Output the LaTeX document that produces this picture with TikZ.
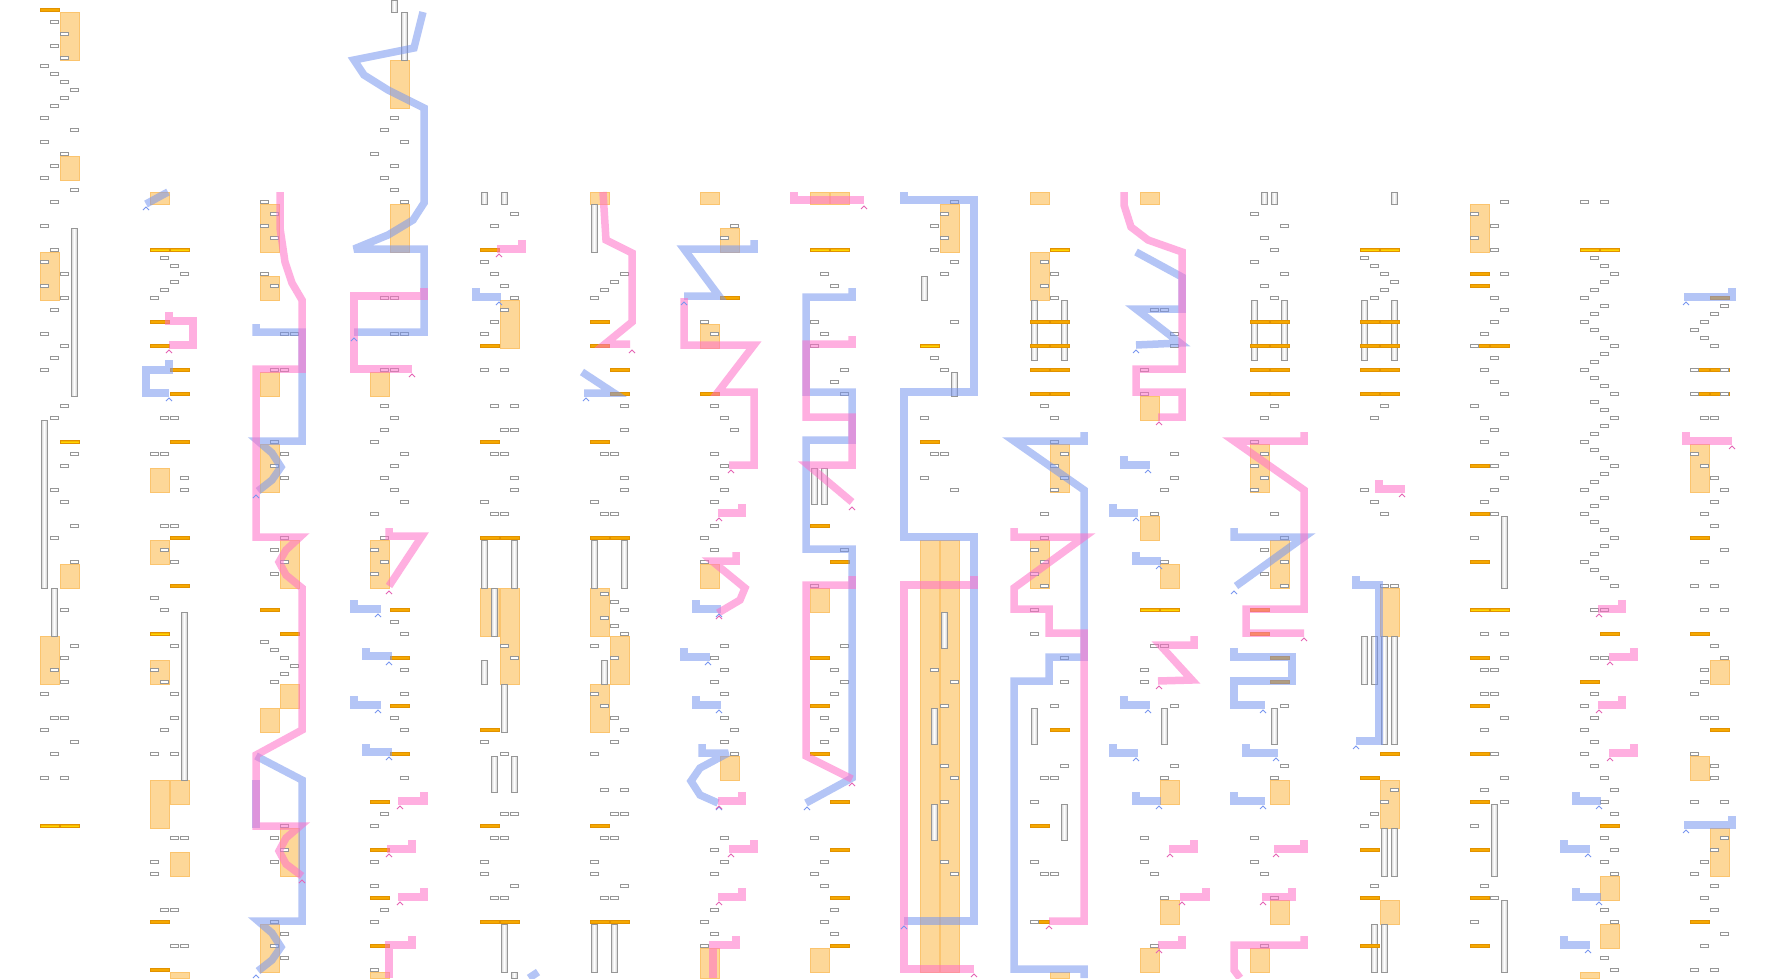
\documentclass[tikz,border=0pt]{standalone}
\usepackage{tikz}
\definecolor{mpgray}{RGB}{150,150,150}
\definecolor{mpblock}{RGB}{253,215,152}
\definecolor{mpblockedge}{RGB}{251,196,110}
\definecolor{mpbar}{RGB}{245,168,0}
\definecolor{mpbaredge}{RGB}{225,145,0}
\definecolor{mpyellow}{RGB}{255,218,0}
\definecolor{mpblue}{RGB}{120,150,240}
\definecolor{mppink}{RGB}{255,110,200}
\tikzset{
  slotbox/.style={draw=mpgray, fill=white, line width=0.8pt},
  ambblock/.style={draw=mpblockedge, fill=mpblock, line width=0.8pt},
  ambbar/.style={draw=mpbaredge, fill=mpbar, line width=0.6pt},
  ambybar/.style={draw=mpbaredge, top color=mpbar, bottom color=mpbar, middle color=mpyellow, line width=0.6pt},
  railbar/.style={draw=mpgray, left color=gray!35, right color=gray!35, middle color=white, line width=0.8pt},
  bluelane/.style={draw=mpblue, line width=7.5pt, opacity=.55, line join=miter, miter limit=4},
  pinklane/.style={draw=mppink, line width=7.5pt, opacity=.55, line join=miter, miter limit=4},
  bluetip/.style={draw=mpblue, line width=0.9pt},
  pinktip/.style={draw=mppink!90!black, line width=0.9pt}
}
\newcommand\slotrow[1]{\foreach \col/\yy in {#1}{\draw[slotbox] (10*\col,\yy-1.2) rectangle ++(8,2.4);}}
\newcommand\barrow[1]{\foreach \col/\yy in {#1}{\draw[ambbar] (10*\col,\yy-1.5) rectangle ++(19,3);}}
\newcommand\ybarrow[1]{\foreach \col/\yy in {#1}{\draw[ambybar] (10*\col,\yy-1.5) rectangle ++(19,3);}}
\newcommand\blockrow[1]{\foreach \col/\ya/\yb in {#1}{\draw[ambblock] (10*\col,\ya) rectangle (10*\col+19,\yb);}}
\newcommand\railrow[1]{\foreach \col/\ya/\yb in {#1}{\draw[railbar] (10*\col+1,\ya) rectangle (10*\col+7,\yb);}}
\newcommand\bluetips[1]{\foreach \xx/\yy in {#1}{\draw[bluetip] (\xx-3,\yy+2) -- (\xx,\yy-1) -- (\xx+3,\yy+2);}}
\newcommand\pinktips[1]{\foreach \xx/\yy in {#1}{\draw[pinktip] (\xx-3,\yy+2) -- (\xx,\yy-1) -- (\xx+3,\yy+2);}}

\begin{document}
\begin{tikzpicture}[x=1pt, y=-1pt]
  \fill[white] (0,0) rectangle (1770,978);
  \useasboundingbox (0,0) rectangle (1770,978);

  \begin{scope}[xshift=40]
    \blockrow{2/12/60,2/156/180,0/252/300,2/564/588,0/636/684}
    \railrow{3/228/396,0/420/588,1/588/636}
    \barrow{0/10}
    \ybarrow{2/442,0/826,2/826}
    \slotrow{1/22,2/34,1/46,2/58,0/66,1/74,2/82,3/90,2/98,1/106,0/118,3/130,0/142,2/154,1/166,0/178,3/190,1/202,0/226,1/250,0/262,2/274,0/286,2/298,1/310,0/334,2/346,1/358,0/370,2/406,1/418,3/454,2/466,1/490,2/502,3/526,1/538,3/562,2/610,3/646,2/658,1/670,2/682,0/694,1/718,2/718,0/730,3/742,1/754,0/778,2/778}
  \end{scope}

  \begin{scope}[xshift=150]
    \blockrow{0/192/204,0/468/492,0/540/564,0/660/684,0/780/828,2/780/804,2/852/876,2/972/978}
    \railrow{3/612/780}
    \barrow{0/322,0/346,2/370,2/394,2/442,2/538,2/586,0/922,0/970}
    \ybarrow{0/250,2/250,0/634}
    \slotrow{1/258,2/266,3/274,2/282,1/290,0/298,1/418,2/418,0/454,1/454,3/478,3/490,1/526,2/526,1/550,2/562,0/598,1/610,2/646,0/670,1/682,2/694,2/718,1/730,0/754,2/754,2/838,3/838,0/862,0/874,1/910,2/910,2/946,3/946}
  \end{scope}

  \begin{scope}[xshift=260]
    \blockrow{0/204/252,0/276/300,0/372/396,0/444/492,2/540/588,2/684/708,0/708/732,2/828/876,0/924/972}
    \barrow{0/610,2/634}
    \slotrow{0/202,1/214,0/226,1/238,0/274,1/286,2/334,3/334,1/370,2/370,1/442,2/454,1/466,2/478,2/538,1/550,2/562,1/574,0/642,1/650,2/658,3/666,2/674,1/682,2/826,1/838,2/850,1/862,1/922,2/934,1/946,2/958}
  \end{scope}

  \begin{scope}[xshift=370]
    \blockrow{2/60/108,2/204/252,0/372/396,0/540/588,0/972/978}
    \railrow{2/0/12,3/12/60}
    \barrow{2/610,2/658,2/706,2/754,0/802,0/850,0/898,0/946}
    \slotrow{2/118,1/130,3/142,0/154,2/166,1/178,2/190,3/202,1/298,2/298,2/334,3/334,1/370,2/370,1/406,2/418,1/430,0/442,3/454,2/466,1/478,2/490,3/502,0/514,1/538,0/550,1/562,0/574,2/622,3/634,3/670,3/694,2/718,3/730,3/778,1/814,0/826,0/862,0/886,1/910,0/922,0/970}
  \end{scope}

  \begin{scope}[xshift=480]
    \blockrow{2/300/348,0/588/636,2/588/684}
    \railrow{0/192/204,2/192/204,0/540/588,3/540/588,1/588/636,0/660/684,2/684/732,1/756/792,3/756/792,2/924/972,3/972/978}
    \barrow{0/250,0/346,0/442,0/538,2/538,0/730,0/826,0/922,2/922}
    \slotrow{3/214,1/226,0/262,1/274,2/286,3/298,2/310,1/322,0/334,0/370,2/370,1/406,3/406,2/430,3/430,1/454,2/454,3/478,3/490,0/502,1/514,2/514,2/646,3/658,0/742,2/754,2/814,3/814,1/838,2/838,0/862,0/874,3/886,1/898,2/898}
  \end{scope}

  \begin{scope}[xshift=590]
    \blockrow{0/192/204,0/588/636,2/636/684,0/684/732}
    \railrow{0/204/252,0/540/588,3/540/588,1/660/684,0/924/972,2/924/972}
    \barrow{0/322,0/346,2/370,2/394,0/442,0/538,2/538,0/826,0/922,2/922}
    \slotrow{3/274,2/282,1/290,0/298,3/406,3/430,1/454,2/454,3/478,3/490,0/502,1/514,2/514,1/594,2/602,3/610,1/618,2/626,3/634,0/646,2/658,0/694,1/706,2/718,3/730,2/742,0/754,1/790,3/790,2/814,3/814,1/838,2/838,0/862,0/874,3/886,1/898,2/898}
  \end{scope}

  \begin{scope}[xshift=700]
    \blockrow{0/192/204,2/228/252,0/324/348,0/564/588,2/756/780,0/948/978}
    \barrow{2/298,0/394}
    \slotrow{3/226,2/238,0/322,1/334,1/406,2/418,3/430,1/454,2/466,1/478,2/490,1/502,1/526,0/538,1/550,0/562,2/646,1/658,2/670,1/682,2/694,2/718,3/730,2/742,3/754,2/838,1/850,2/862,1/874,1/910,0/922,1/934,0/946}
  \end{scope}

  \begin{scope}[xshift=810]
    \blockrow{0/192/204,2/192/204,0/588/612,0/948/972}
    \railrow{0/468/504,1/468/504}
    \barrow{0/526,2/562,0/658,0/706,0/754,2/802,2/850,2/898,2/946}
    \ybarrow{0/250,2/250}
    \slotrow{1/274,2/286,0/322,1/334,0/346,3/370,2/382,3/394,3/550,0/586,3/646,2/670,3/682,2/694,1/718,2/730,1/742,0/838,1/862,0/874,1/886,2/910,1/922,2/934}
  \end{scope}

  \begin{scope}[xshift=920]
    \blockrow{2/204/252,0/540/972,2/540/972}
    \railrow{0/276/300,3/372/396,2/612/648,1/708/744,1/804/840}
    \barrow{0/442}
    \ybarrow{0/346}
    \slotrow{3/202,2/214,1/226,2/238,1/250,3/262,2/274,3/322,1/358,2/370,0/418,1/454,2/454,0/478,3/490,1/670,3/682,2/706,2/766,3/778,2/802,2/862,3/874}
  \end{scope}

  \begin{scope}[xshift=1030]
    \blockrow{0/192/204,0/252/300,2/444/492,0/540/588,2/972/978}
    \railrow{0/300/360,3/300/360,0/708/744,3/804/840}
    \barrow{0/322,2/322,0/346,2/346,0/370,2/370,0/394,2/394,2/730,0/826,0/922}
    \ybarrow{2/250}
    \slotrow{1/262,2/274,1/286,2/298,1/406,2/418,2/442,3/454,2/466,3/478,2/490,1/514,1/538,0/550,1/562,0/574,1/586,0/610,0/634,3/658,3/682,2/706,3/766,1/778,2/778,0/802,0/862,1/874,2/874,0/922}
  \end{scope}

  \begin{scope}[xshift=1140]
    \blockrow{0/192/204,0/396/420,0/516/540,2/564/588,2/780/804,2/900/924,0/948/972}
    \railrow{2/708/744}
    \ybarrow{0/610,2/610}
    \slotrow{1/310,2/310,3/334,3/346,0/370,0/394,3/454,3/478,2/490,1/514,2/562,1/646,2/646,0/670,0/682,3/706,3/766,2/778,0/838,0/862,1/874,2/898,1/946}
  \end{scope}

  \begin{scope}[xshift=1250]
    \blockrow{0/444/492,2/540/588,2/780/804,2/900/924,0/948/972}
    \railrow{1/192/204,2/192/204,0/300/360,3/300/360,2/708/744}
    \barrow{0/322,2/322,0/346,2/346,0/370,2/370,0/394,2/394,0/610,0/634,2/658,2/682}
    \slotrow{0/214,3/226,1/238,2/250,0/262,3/274,1/286,2/298,2/406,1/418,0/442,1/454,0/466,1/478,0/490,2/514,3/538,1/550,3/562,1/574,3/586,3/706,3/766,2/778,0/838,0/862,1/874,2/898,1/946}
  \end{scope}

  \begin{scope}[xshift=1360]
    \blockrow{2/588/636,2/780/828,2/900/924}
    \railrow{3/192/204,0/300/360,3/300/360,0/636/684,1/636/684,2/636/744,3/636/744,2/828/876,3/828/876,1/924/972,2/924/972}
    \barrow{0/322,2/322,0/346,2/346,0/370,2/370,0/394,2/394,2/754,0/778,0/850,0/898,0/946}
    \ybarrow{0/250,2/250}
    \slotrow{0/258,1/266,2/274,3/282,2/290,1/298,2/406,1/418,0/490,1/502,2/514,2/586,3/586,3/790,2/802,1/814,0/826,1/886}
  \end{scope}

  \begin{scope}[xshift=1470]
    \blockrow{0/204/252}
    \railrow{3/516/588,2/804/876,3/900/972}
    \barrow{0/274,0/286,0/346,2/346,0/466,0/514,0/562,0/658,0/706,0/754,0/802,0/850,0/898,0/946}
    \ybarrow{0/610,2/610}
    \slotrow{3/202,0/214,2/226,0/238,2/250,3/274,2/298,3/310,2/322,1/334,0/346,2/358,1/370,2/382,3/394,0/406,1/418,2/430,1/442,3/454,2/466,3/478,2/490,1/502,2/514,0/538,1/634,3/634,3/658,1/670,2/670,1/694,2/694,3/718,1/730,2/754,3/778,1/790,3/802,0/826,1/886,2/898,0/922}
  \end{scope}

  \begin{scope}[xshift=1580]
    \blockrow{2/876/900,2/924/948,0/972/978}
    \barrow{2/634,0/682,2/826}
    \ybarrow{0/250,2/250}
    \slotrow{0/202,2/202,1/258,2/266,3/274,2/282,1/290,0/298,2/306,1/314,0/322,1/330,2/338,3/346,2/354,1/362,0/370,1/378,2/386,3/394,1/402,2/410,3/418,2/426,1/434,0/442,1/450,2/458,3/466,2/474,1/482,0/490,2/498,1/506,0/514,1/522,2/530,3/538,2/546,1/554,0/562,1/570,2/578,3/586,1/610,2/610,1/658,2/658,1/694,0/706,1/718,0/730,1/742,0/754,1/766,2/778,3/790,2/802,3/814,2/838,3/850,2/862,3/874,2/910,3/922,2/958,3/970}
  \end{scope}

  \begin{scope}[xshift=1690]
    \blockrow{0/444/492,2/660/684,0/756/780,2/828/876}
    \barrow{2/298,0/370,2/370,0/394,2/394,0/538,0/634,2/730,0/922}
    \slotrow{3/306,2/314,1/322,0/330,1/338,2/346,0/370,3/370,0/394,3/394,1/418,2/418,0/454,1/466,2/478,3/490,2/502,1/514,2/526,3/550,1/562,0/586,2/586,1/610,3/610,2/646,3/658,1/670,1/682,0/694,1/718,2/718,0/754,2/766,2/778,0/802,3/802,3/838,2/850,1/862,0/874,2/886,1/898,2/910,3/934,1/946,0/970,2/970}
  \end{scope}

  \draw[bluelane] (168,192) -- (146,204);
  \draw[bluelane] (169,360) -- (169,370) -- (146,370) -- (146,393) -- (169,393);
  \draw[bluelane] (256,324) -- (256,332) -- (302,332) -- (302,441) -- (258,441) -- (272,453) -- (281,467) -- (272,480) -- (258,491);
  \draw[bluelane] (256,780) -- (256,828);
  \draw[bluelane] (256,756) -- (302,780) -- (302,921) -- (258,921) -- (272,933) -- (281,947) -- (272,960) -- (258,971);
  \draw[bluelane] (423,12) -- (414,48) -- (354,60) -- (364,75) -- (388,90) -- (424,108) -- (424,203) -- (413,220) -- (388,235) -- (354,249) -- (424,249) -- (424,332) -- (354,332);
  \draw[bluelane] (354,600) -- (354,609) -- (381,609);
  \draw[bluelane] (366,648) -- (366,656) -- (392,656);
  \draw[bluelane] (354,696) -- (354,705) -- (381,705);
  \draw[bluelane] (366,744) -- (366,752) -- (392,752);
  \draw[bluelane] (476,288) -- (476,297) -- (501,297);
  \draw[bluelane] (538,972) -- (529,978);
  \draw[bluelane] (582,372) -- (614,393) -- (584,393);
  \draw[bluelane] (754,240) -- (754,249) -- (684,249) -- (719,296) -- (684,296);
  \draw[bluelane] (696,600) -- (696,609) -- (721,609);
  \draw[bluelane] (684,648) -- (684,657) -- (710,657);
  \draw[bluelane] (696,696) -- (696,705) -- (721,705);
  \draw[bluelane] (702,744) -- (702,753) -- (728,753) -- (700,768) -- (691,781) -- (700,795) -- (718,803);
  \draw[bluelane] (852,288) -- (852,297) -- (806,297) -- (806,392) -- (852,392) -- (852,440) -- (806,440) -- (806,549) -- (852,549) -- (852,778) -- (806,803);
  \draw[bluelane] (904,192) -- (904,200) -- (974,200) -- (974,392) -- (904,392) -- (904,537) -- (974,537) -- (974,921) -- (904,921);
  \draw[bluelane] (1084,432) -- (1084,441) -- (1014,441) -- (1084,490) -- (1084,657) -- (1049,657) -- (1049,681) -- (1014,681) -- (1014,969) -- (1084,969) -- (1084,978);
  \draw[bluelane] (1136,252) -- (1182,277) -- (1182,309) -- (1136,309) -- (1180,343) -- (1136,345);
  \draw[bluelane] (1124,456) -- (1124,465) -- (1150,465);
  \draw[bluelane] (1113,504) -- (1113,513) -- (1138,513);
  \draw[bluelane] (1136,552) -- (1136,561) -- (1161,561);
  \draw[bluelane] (1124,696) -- (1124,705) -- (1150,705);
  \draw[bluelane] (1113,744) -- (1113,753) -- (1138,753);
  \draw[bluelane] (1136,792) -- (1136,801) -- (1161,801);
  \draw[bluelane] (1234,528) -- (1234,537) -- (1304,537) -- (1236,586);
  \draw[bluelane] (1234,648) -- (1234,657) -- (1292,657) -- (1292,681) -- (1234,681) -- (1234,705) -- (1265,705);
  \draw[bluelane] (1246,744) -- (1246,753) -- (1278,753);
  \draw[bluelane] (1234,792) -- (1234,801) -- (1265,801);
  \draw[bluelane] (1356,576) -- (1356,585) -- (1379,585) -- (1379,741) -- (1356,741);
  \draw[bluelane] (1576,792) -- (1576,801) -- (1601,801);
  \draw[bluelane] (1564,840) -- (1564,849) -- (1590,849);
  \draw[bluelane] (1576,888) -- (1576,897) -- (1601,897);
  \draw[bluelane] (1564,936) -- (1564,945) -- (1590,945);
  \draw[bluelane] (1732,288) -- (1732,297) -- (1684,297);
  \draw[bluelane] (1732,816) -- (1732,825) -- (1684,825);

  \draw[pinklane] (169,312) -- (169,321) -- (193,321) -- (193,345) -- (169,345);
  \draw[pinklane] (280,192) -- (280,228) -- (285,262) -- (292,283) -- (302,300) -- (302,369) -- (256,369) -- (256,537) -- (300,537) -- (286,550) -- (279,562) -- (286,575) -- (302,588) -- (302,730) -- (256,755) -- (256,826) -- (300,826) -- (286,838) -- (279,851) -- (286,864) -- (302,876);
  \draw[pinklane] (424,288) -- (424,296) -- (354,296) -- (354,369) -- (412,369);
  \draw[pinklane] (389,528) -- (389,536) -- (422,536) -- (389,586);
  \draw[pinklane] (424,792) -- (424,801) -- (398,801);
  \draw[pinklane] (412,840) -- (412,849) -- (387,849);
  \draw[pinklane] (424,888) -- (424,897) -- (398,897);
  \draw[pinklane] (412,936) -- (412,945) -- (389,945) -- (389,978);
  \draw[pinklane] (522,240) -- (522,249) -- (497,249);
  \draw[pinklane] (603,192) -- (606,240) -- (632,253) -- (632,322) -- (605,344) -- (630,344);
  \draw[pinklane] (684,298) -- (684,345) -- (754,345) -- (718,392) -- (754,392) -- (754,465) -- (729,465);
  \draw[pinklane] (742,504) -- (742,513) -- (718,513);
  \draw[pinklane] (736,552) -- (736,561) -- (712,561) -- (745,588) -- (740,600) -- (718,613);
  \draw[pinklane] (742,792) -- (742,801) -- (718,801);
  \draw[pinklane] (754,840) -- (754,849) -- (729,849);
  \draw[pinklane] (742,888) -- (742,897) -- (718,897);
  \draw[pinklane] (736,936) -- (736,945) -- (713,945) -- (713,978);
  \draw[pinklane] (794,192) -- (794,200) -- (864,200);
  \draw[pinklane] (852,336) -- (852,344) -- (806,344) -- (806,417) -- (852,417) -- (852,465) -- (808,465) -- (852,502);
  \draw[pinklane] (852,576) -- (852,585) -- (806,585) -- (806,756) -- (852,779);
  \draw[pinklane] (974,576) -- (974,585) -- (904,585) -- (904,969) -- (974,969);
  \draw[pinklane] (1014,528) -- (1014,537) -- (1084,537) -- (1014,588) -- (1014,609) -- (1049,609) -- (1049,633) -- (1084,633) -- (1084,921) -- (1049,921);
  \draw[pinklane] (1124,192) -- (1124,205) -- (1131,227) -- (1148,240) -- (1182,252) -- (1182,369) -- (1136,369) -- (1136,392) -- (1182,392) -- (1182,417) -- (1158,417);
  \draw[pinklane] (1194,636) -- (1194,645) -- (1160,645) -- (1192,680) -- (1158,681);
  \draw[pinklane] (1194,840) -- (1194,849) -- (1169,849);
  \draw[pinklane] (1206,888) -- (1206,897) -- (1180,897);
  \draw[pinklane] (1182,936) -- (1182,945) -- (1158,945);
  \draw[pinklane] (1304,432) -- (1304,441) -- (1234,441) -- (1304,490) -- (1304,609) -- (1246,609) -- (1246,633) -- (1304,633);
  \draw[pinklane] (1304,840) -- (1304,849) -- (1274,849);
  \draw[pinklane] (1292,888) -- (1292,897) -- (1262,897);
  \draw[pinklane] (1304,936) -- (1304,945) -- (1234,945) -- (1234,970) -- (1240,978);
  \draw[pinklane] (1379,480) -- (1379,489) -- (1405,489);
  \draw[pinklane] (1622,600) -- (1622,609) -- (1598,609);
  \draw[pinklane] (1634,648) -- (1634,657) -- (1609,657);
  \draw[pinklane] (1622,696) -- (1622,705) -- (1598,705);
  \draw[pinklane] (1634,744) -- (1634,753) -- (1609,753);
  \draw[pinklane] (1686,432) -- (1686,441) -- (1732,441);

  \bluetips{146/208,169/399,256/496,256/976,354/339,378/615,389/663,378/711,389/758,499/303,586/399,684/303,719/615,708/663,719/711,719/808,807/808,904/927,1136/351,1148/471,1136/519,1159/567,1148/711,1136/759,1159/807,1234/592,1263/711,1276/759,1263/807,1356/747,1599/807,1588/855,1599/903,1588/951,1686/303,1686/831}
  \pinktips{169/351,302/881,412/375,389/592,400/807,389/855,400/903,499/255,632/351,731/471,719/519,719/617,719/807,731/855,719/903,864/207,852/508,852/784,974/975,1049/927,1159/423,1159/687,1170/855,1182/903,1159/951,1304/639,1276/855,1263/903,1402/495,1599/615,1610/663,1599/711,1610/759,1732/447}
\end{tikzpicture}
\end{document}
